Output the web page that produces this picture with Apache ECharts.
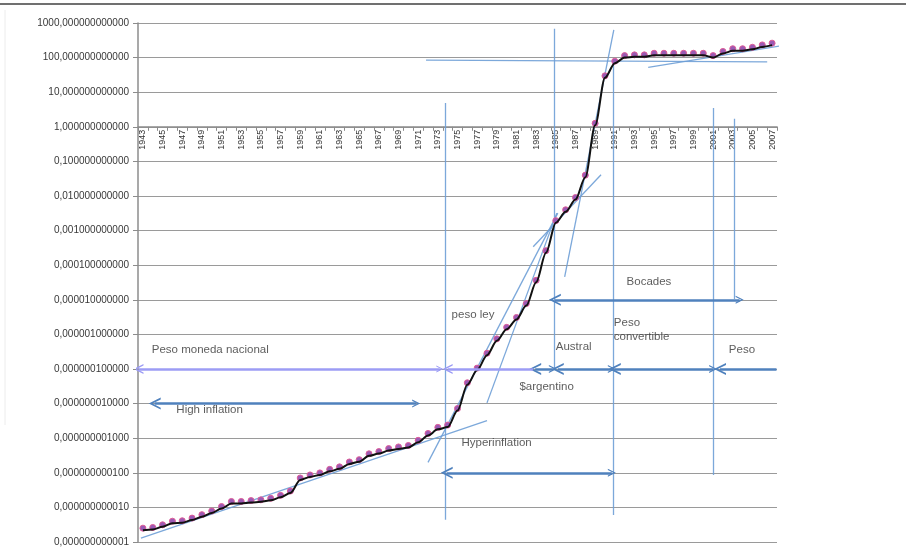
<!DOCTYPE html>
<html>
<head>
<meta charset="utf-8">
<script src="https://cdn.jsdelivr.net/npm/echarts@6/dist/echarts.min.js"></script>
<style>
  html, body { margin: 0; padding: 0; background: #fff; }
  #chart { width: 906px; height: 547px; }
</style>
</head>
<body>
<div id="chart"></div>
<script>
// years on the category axis
const years = [
  '1943','1944','1945','1946','1947','1948','1949','1950','1951','1952',
  '1953','1954','1955','1956','1957','1958','1959','1960','1961','1962',
  '1963','1964','1965','1966','1967','1968','1969','1970','1971','1972',
  '1973','1974','1975','1976','1977','1978','1979','1980','1981','1982',
  '1983','1984','1985','1986','1987','1988','1989','1990','1991','1992',
  '1993','1994','1995','1996','1997','1998','1999','2000','2001','2002',
  '2003','2004','2005','2006','2007'
];

// currency value (log scale)
const values = [
  2.2e-12, 2.3e-12, 2.75e-12, 3.5e-12, 3.6e-12, 4.3e-12, 5.4e-12, 6.9e-12, 9.3e-12, 1.3e-11,
  1.3e-11, 1.38e-11, 1.45e-11, 1.6e-11, 1.95e-11, 2.6e-11, 6.2e-11, 7.6e-11, 8.7e-11, 1.1e-10,
  1.3e-10, 1.8e-10, 2.1e-10, 3.1e-10, 3.6e-10, 4.4e-10, 4.9e-10, 5.4e-10, 7.6e-10, 1.2e-9,
  1.8e-9, 2.1e-9, 6.3e-9, 3.5e-8, 9.3e-8, 2.5e-7, 6.5e-7, 1.4e-6, 2.7e-6, 6.8e-6,
  3.2e-5, 2.3e-4, 1.7e-3, 3.5e-3, 7.9e-3, 0.035, 1.1, 26, 69, 100,
  105, 105, 117, 117, 117, 117, 117, 117, 100, 132,
  158, 158, 174, 204, 229
];

// hand drawn trend / separator lines: [[year, value], [year, value]]
const trendLines = [
  [[1942.8, 1.3e-12], [1978.0, 3.2e-9]],
  [[1972.0, 2.0e-10], [1985.2, 3.2e-3]],
  [[1978.0, 1.05e-8], [1985.1, 3.2e-3]],
  [[1982.7, 3.4e-4], [1989.6, 0.041]],
  [[1985.9, 4.6e-5], [1990.9, 630]],
  [[1971.8, 85], [2006.5, 75]],
  [[1994.4, 52], [2009.5, 260]],
  [[1973.8, 4.4e-12], [1973.8, 4.9]],
  [[1984.8, 1.07e-7], [1984.8, 680]],
  [[1990.8, 6e-12], [1990.8, 74]],
  [[2001.0, 8.7e-11], [2001.0, 3.5]],
  [[2003.2, 1.05e-5], [2003.2, 1.7]]
];

// period arrows
const doubleArrows = [
  [[1944.2, 1e-8], [1970.8, 1e-8]],
  [[1973.9, 1e-10], [1990.7, 1e-10]],
  [[1984.9, 1e-5], [2003.7, 1e-5]],
  [[1982.9, 1e-7], [1984.7, 1e-7]],
  [[1985.2, 1e-7], [1990.7, 1e-7]],
  [[1991.0, 1e-7], [2001.0, 1e-7]]
];
const leftArrows = [
  [[2001.7, 1e-7], [2007.45, 1e-7]]
];
const purpleDouble = [
  [[1942.55, 1e-7], [1973.2, 1e-7]]
];
const purpleLeft = [
  [[1974.0, 1e-7], [1982.7, 1e-7]]
];

// labels: [text, year, value]
const notes = [
  ['Peso moneda nacional', 1943.9, 3.5e-7],
  ['High inflation', 1946.4, 6.5e-9],
  ['peso ley', 1974.4, 3.6e-6],
  ['Austral', 1985.0, 4.4e-7],
  ['$argentino', 1981.3, 3.0e-8],
  ['Hyperinflation', 1975.4, 7.2e-10],
  ['Bocades', 1992.2, 3.2e-5],
  ['Peso\nconvertible', 1990.9, 1.35e-6],
  ['Peso', 2002.6, 3.5e-7]
];

const W = 906, H = 547;
const gridTop = 23, gridBottom = 5;
const plotH = H - gridTop - gridBottom;
const yOne = gridTop + plotH * 3 / 15;
const xAxisOffset = -((H - gridBottom) - yOne);

// open arrow head
const chevron = 'path://M0,10 L5,0 L10,10 L8.4,10 L5,3.2 L1.6,10 Z';
const blue = '#4f81bd';
const thin = '#6e9fd6';
const toCoords = arr => arr.map(seg => ({ coords: seg }));

function arrowSeries(data, head, color, size) {
  return {
    type: 'lines',
    coordinateSystem: 'cartesian2d',
    xAxisIndex: 1,
    yAxisIndex: 0,
    silent: true,
    z: 5,
    symbol: head,
    symbolSize: size,
    lineStyle: { color: color, width: 2.5, opacity: 1, curveness: 0 },
    data: toCoords(data)
  };
}

const chart = echarts.init(document.getElementById('chart'));
chart.setOption({
  animation: false,
  textStyle: { fontFamily: '"Liberation Sans", Arial, sans-serif' },
  graphic: [
    { type: 'line', shape: { x1: 0, y1: 4, x2: W, y2: 4 }, style: { stroke: '#707070', lineWidth: 2 } },
    { type: 'line', shape: { x1: 5, y1: 10, x2: 5, y2: 425 }, style: { stroke: '#ececec', lineWidth: 1 } }
  ],
  grid: { left: 138, right: 129, top: gridTop, bottom: gridBottom, containLabel: false },
  xAxis: [
    {
      type: 'category',
      data: years,
      boundaryGap: true,
      position: 'bottom',
      offset: xAxisOffset,
      axisLine: { lineStyle: { color: '#8c8c8c', width: 1.5 } },
      axisTick: { show: true, interval: 0, length: 4, lineStyle: { color: '#8c8c8c' } },
      axisLabel: { interval: 1, rotate: 90, fontSize: 9, color: '#333', margin: 3 },
      splitLine: { show: false }
    },
    {
      type: 'value',
      min: 1942.5,
      max: 2007.5,
      show: false,
      splitLine: { show: false }
    }
  ],
  yAxis: {
    type: 'log',
    logBase: 10,
    min: 1e-12,
    max: 1000,
    interval: 1,
    splitNumber: 15,
    axisLine: { show: true, lineStyle: { color: '#8c8c8c', width: 1.5 } },
    axisTick: { show: true, length: 5, lineStyle: { color: '#8c8c8c' } },
    axisLabel: {
      fontSize: 10,
      color: '#383838',
      margin: 9,
      formatter: v => v.toFixed(12).replace('.', ',')
    },
    splitLine: { show: true, lineStyle: { color: '#9a9a9a', width: 1.2 } },
    minorTick: { show: false }
  },
  series: [
    {
      type: 'lines',
      coordinateSystem: 'cartesian2d',
      xAxisIndex: 1,
      yAxisIndex: 0,
      silent: true,
      z: 2,
      symbol: 'none',
      lineStyle: { color: thin, width: 1.3, opacity: 0.9, curveness: 0 },
      data: toCoords(trendLines)
    },
    arrowSeries(doubleArrows, [chevron, chevron], blue, [12, 8]),
    arrowSeries(leftArrows, [chevron, 'none'], blue, [12, 8]),
    arrowSeries(purpleDouble, [chevron, chevron], '#9c9cf5', [10, 7]),
    arrowSeries(purpleLeft, [chevron, 'none'], '#9c9cf5', [10, 7]),
    {
      name: 'points',
      type: 'line',
      xAxisIndex: 0,
      yAxisIndex: 0,
      data: values,
      symbol: 'circle',
      symbolSize: 6,
      symbolOffset: [0, -2],
      showAllSymbol: true,
      lineStyle: { width: 0, opacity: 0 },
      itemStyle: { color: '#9a5ab4', borderColor: '#de5c98', borderWidth: 1 },
      z: 3,
      silent: true
    },
    {
      name: 'curve',
      type: 'line',
      xAxisIndex: 0,
      yAxisIndex: 0,
      data: values,
      smooth: 0.3,
      smoothMonotone: 'x',
      showSymbol: false,
      lineStyle: { color: '#111', width: 2 },
      z: 4,
      silent: true
    },
    {
      type: 'scatter',
      xAxisIndex: 1,
      yAxisIndex: 0,
      symbolSize: 0,
      clip: false,
      silent: true,
      z: 6,
      data: notes.map(n => ({ value: [n[1], n[2]], name: n[0] })),
      label: {
        show: true,
        position: 'right',
        distance: 0,
        formatter: p => p.name,
        fontSize: 11.5,
        color: '#333',
        lineHeight: 14
      }
    }
  ]
});
</script>
</body>
</html>
